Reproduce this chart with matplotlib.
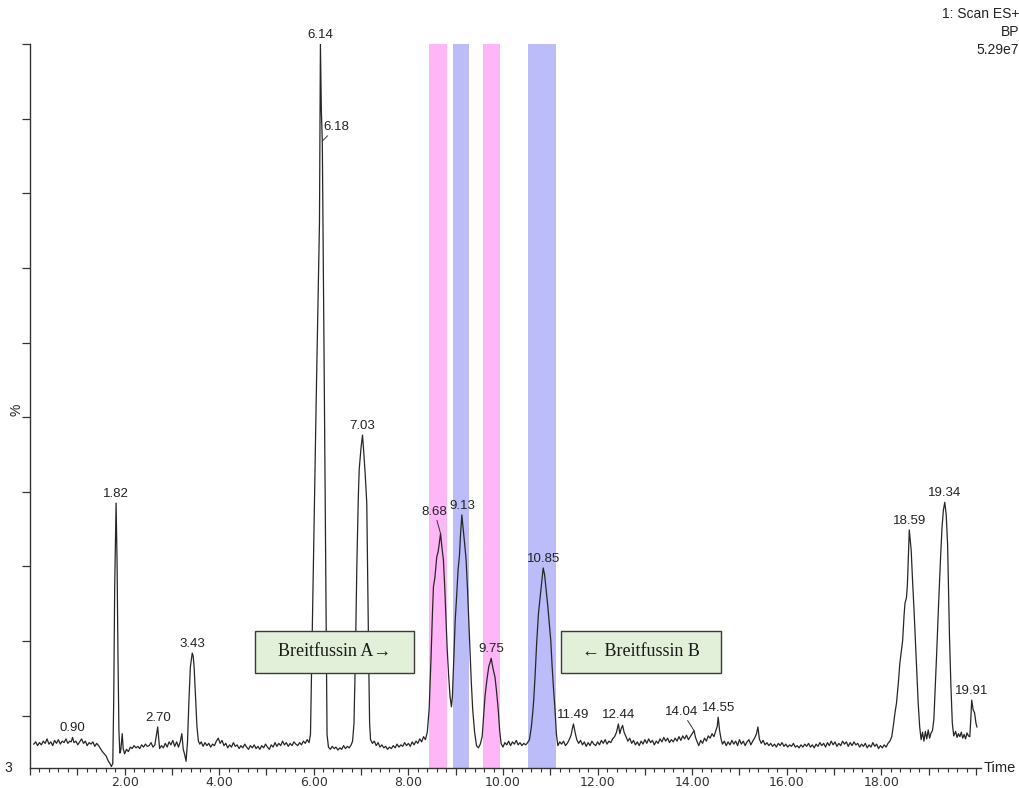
"""
BPI chromatogram (1: Scan ES+) with Breitfussin A / B regions marked
"""
import matplotlib
matplotlib.use('Agg')
import matplotlib.pyplot as plt
from matplotlib.patches import Rectangle
from matplotlib.ticker import MultipleLocator, FuncFormatter

# trace: (time in min, % of base peak)
seg_early = [(0.08, 6.2), (0.12, 6.5), (0.16, 6.0), (0.20, 6.4), (0.24, 6.1), (0.28, 6.6),
             (0.32, 6.3), (0.36, 6.9), (0.40, 6.2), (0.44, 6.5), (0.48, 6.0), (0.52, 6.7),
             (0.56, 6.3), (0.60, 6.8), (0.64, 6.2), (0.68, 6.6), (0.72, 6.4), (0.76, 6.9),
             (0.80, 6.3), (0.84, 6.6), (0.87, 6.5), (0.90, 7.1), (0.93, 6.4), (0.97, 6.6),
             (1.01, 6.1), (1.05, 6.5), (1.09, 6.9), (1.13, 6.3), (1.17, 6.6), (1.21, 6.0),
             (1.25, 6.4), (1.29, 6.2), (1.33, 6.5), (1.37, 5.9), (1.41, 6.3), (1.45, 6.0),
             (1.49, 5.6), (1.53, 5.2), (1.57, 4.9), (1.61, 4.6), (1.65, 4.0), (1.69, 3.6),
             (1.72, 3.2), (1.75, 3.6), (1.77, 12.0), (1.79, 27.0), (1.82, 38.5), (1.84, 31.0),
             (1.86, 18.0), (1.88, 8.0), (1.90, 5.0), (1.92, 5.4), (1.95, 7.6), (1.97, 5.6),
             (2.00, 4.9), (2.04, 5.5), (2.08, 5.2), (2.12, 5.8), (2.16, 5.6), (2.20, 6.0),
             (2.24, 5.7), (2.28, 5.9), (2.32, 5.6), (2.36, 6.1), (2.40, 5.8), (2.44, 6.2),
             (2.48, 5.9), (2.52, 6.0), (2.56, 6.4), (2.60, 5.8), (2.64, 6.1), (2.67, 7.3),
             (2.70, 8.5), (2.72, 7.0), (2.74, 5.6), (2.78, 6.0), (2.82, 5.7), (2.86, 6.3),
             (2.90, 5.8), (2.94, 6.5), (2.98, 6.1), (3.02, 6.7), (3.06, 5.9), (3.10, 6.5),
             (3.14, 5.8), (3.18, 6.6), (3.21, 7.6), (3.24, 5.5), (3.27, 4.8), (3.30, 3.9),
             (3.33, 6.5), (3.36, 12.0), (3.39, 16.5), (3.43, 18.4), (3.45, 18.0), (3.47, 16.5),
             (3.50, 12.5), (3.53, 8.5), (3.56, 6.6), (3.59, 6.2)]

seg_big = [(3.62, 6.5), (3.66, 5.9), (3.70, 6.4), (3.74, 6.0), (3.78, 6.3), (3.82, 5.8),
           (3.86, 6.2), (3.90, 6.0), (3.94, 6.6), (3.98, 7.0), (4.02, 6.3), (4.06, 6.7),
           (4.10, 6.0), (4.14, 6.3), (4.18, 5.7), (4.22, 6.1), (4.26, 5.8), (4.30, 6.4),
           (4.34, 5.9), (4.38, 6.1), (4.42, 5.6), (4.46, 6.0), (4.50, 5.7), (4.54, 6.2),
           (4.58, 5.8), (4.62, 5.5), (4.66, 6.0), (4.70, 5.7), (4.74, 6.1), (4.78, 5.6),
           (4.82, 5.9), (4.86, 5.5), (4.90, 6.0), (4.94, 5.7), (4.98, 6.2), (5.02, 5.8),
           (5.06, 5.5), (5.10, 6.1), (5.14, 5.8), (5.18, 6.4), (5.22, 5.9), (5.26, 6.3),
           (5.30, 6.0), (5.34, 6.6), (5.38, 6.1), (5.42, 6.4), (5.46, 5.9), (5.50, 6.3),
           (5.54, 6.0), (5.58, 6.5), (5.62, 6.2), (5.66, 6.0), (5.70, 6.4), (5.74, 6.1),
           (5.78, 6.6), (5.82, 6.3), (5.86, 6.8), (5.90, 6.4), (5.93, 7.5), (5.97, 22.0),
           (6.01, 37.0), (6.05, 52.0), (6.09, 66.0), (6.12, 76.0), (6.14, 100.0), (6.16, 91.0),
           (6.18, 87.0), (6.20, 72.0), (6.22, 56.0), (6.24, 40.0), (6.26, 23.0), (6.28, 7.5),
           (6.31, 5.8), (6.35, 5.5), (6.39, 5.9), (6.43, 5.6), (6.47, 5.8), (6.51, 5.4),
           (6.55, 5.7), (6.59, 5.5), (6.63, 6.0), (6.67, 5.6), (6.71, 5.9), (6.75, 5.7),
           (6.79, 6.1), (6.82, 6.6), (6.85, 9.0), (6.88, 18.0), (6.91, 30.0), (6.94, 39.0),
           (6.96, 43.0), (6.98, 44.5), (7.00, 46.0), (7.03, 47.6), (7.06, 45.0), (7.09, 42.0),
           (7.12, 38.5), (7.14, 28.0), (7.16, 18.0), (7.18, 9.0), (7.20, 6.8), (7.24, 6.3),
           (7.28, 6.6), (7.32, 6.0), (7.36, 6.4), (7.40, 5.8), (7.44, 6.1), (7.48, 5.7),
           (7.52, 5.9), (7.56, 5.5), (7.60, 5.8), (7.64, 5.6), (7.68, 6.0), (7.72, 5.7),
           (7.76, 6.2), (7.80, 5.8), (7.84, 6.1), (7.88, 5.9), (7.92, 6.4), (7.96, 6.0),
           (8.00, 6.3), (8.04, 5.9), (8.08, 6.5), (8.12, 6.1), (8.16, 6.6), (8.20, 6.3),
           (8.24, 6.9), (8.28, 6.5), (8.32, 7.2), (8.36, 6.8)]

seg_breit = [(8.40, 7.8), (8.44, 11.0), (8.48, 18.0), (8.51, 24.0), (8.53, 27.3), (8.56, 28.5),
             (8.60, 31.3), (8.63, 32.0), (8.66, 33.5), (8.68, 34.4), (8.71, 32.5), (8.74, 30.9),
             (8.77, 27.0), (8.79, 23.8), (8.82, 19.0), (8.85, 15.5), (8.88, 12.6), (8.91, 11.2),
             (8.93, 12.5), (8.96, 17.5), (8.99, 22.8), (9.02, 26.0), (9.05, 29.5), (9.08, 31.5),
             (9.10, 34.0), (9.13, 36.9), (9.16, 35.0), (9.19, 33.0), (9.22, 30.9), (9.25, 27.0),
             (9.27, 23.8), (9.30, 19.0), (9.33, 14.5), (9.36, 10.8), (9.40, 7.8), (9.44, 6.0),
             (9.48, 5.7), (9.52, 6.2), (9.56, 7.2), (9.59, 10.0), (9.62, 12.6), (9.66, 14.8),
             (9.70, 16.6), (9.73, 17.2), (9.75, 17.7), (9.79, 16.3), (9.83, 15.2), (9.86, 13.5),
             (9.90, 10.8), (9.93, 8.0), (9.96, 6.3), (10.00, 5.8), (10.04, 6.4), (10.08, 6.1),
             (10.12, 6.6), (10.16, 6.0), (10.20, 6.5), (10.24, 6.2), (10.28, 6.7), (10.32, 6.1),
             (10.36, 6.4), (10.40, 6.0), (10.44, 6.3), (10.48, 6.1), (10.52, 6.4), (10.56, 6.8),
             (10.60, 8.5), (10.63, 10.5), (10.65, 12.1), (10.68, 15.5), (10.71, 19.5),
             (10.75, 23.7), (10.78, 25.5), (10.82, 27.8), (10.85, 29.8), (10.88, 28.9),
             (10.91, 27.0), (10.95, 24.5), (10.98, 22.3), (11.01, 20.1), (11.04, 16.5),
             (11.07, 13.5), (11.10, 10.8), (11.13, 7.5), (11.16, 6.0)]

seg_mid = [(11.20, 6.5), (11.24, 6.2), (11.28, 6.6), (11.32, 6.0), (11.36, 6.3), (11.40, 6.8),
           (11.44, 7.4), (11.47, 8.4), (11.49, 8.9), (11.53, 7.6), (11.56, 6.8), (11.60, 6.3),
           (11.64, 6.7), (11.68, 6.1), (11.72, 6.5), (11.76, 5.9), (11.80, 6.4), (11.84, 6.0),
           (11.88, 6.6), (11.92, 6.2), (11.96, 6.0), (12.00, 6.5), (12.04, 6.1), (12.08, 6.7),
           (12.12, 6.3), (12.16, 6.8), (12.20, 6.2), (12.24, 6.6), (12.28, 6.4), (12.32, 6.9),
           (12.36, 7.2), (12.40, 7.8), (12.44, 8.9), (12.47, 7.6), (12.50, 8.3), (12.53, 8.7),
           (12.56, 7.8), (12.60, 7.2), (12.64, 6.6), (12.68, 7.0), (12.72, 6.3), (12.76, 6.7),
           (12.80, 6.1), (12.84, 6.5), (12.88, 6.0), (12.92, 6.6), (12.96, 6.2), (13.00, 6.8),
           (13.04, 6.3), (13.08, 6.9), (13.12, 6.4), (13.16, 6.7), (13.20, 6.1), (13.24, 6.6),
           (13.28, 6.3), (13.32, 6.9), (13.36, 6.5), (13.40, 7.1), (13.44, 6.6), (13.48, 7.0),
           (13.52, 6.4), (13.56, 6.8), (13.60, 6.5), (13.64, 7.0), (13.68, 6.6), (13.72, 7.2),
           (13.76, 6.7), (13.80, 7.3), (13.84, 6.9), (13.88, 7.4), (13.92, 6.8), (13.96, 7.2),
           (14.00, 7.6), (14.04, 8.0), (14.07, 7.1), (14.10, 6.6), (14.14, 6.0), (14.18, 6.7),
           (14.22, 6.3), (14.26, 7.0), (14.30, 6.6), (14.34, 7.3), (14.38, 7.0), (14.42, 7.6),
           (14.46, 7.2), (14.50, 8.0), (14.53, 8.6), (14.55, 9.8), (14.58, 8.0), (14.61, 6.9),
           (14.64, 6.2), (14.68, 6.6), (14.72, 6.0), (14.76, 6.5), (14.80, 6.1), (14.84, 6.7),
           (14.88, 6.2), (14.92, 6.6), (14.96, 6.0), (15.00, 6.8), (15.04, 6.2), (15.08, 6.6),
           (15.12, 6.0), (15.16, 6.5), (15.20, 6.8), (15.24, 6.1), (15.28, 6.6), (15.32, 7.0),
           (15.36, 7.6), (15.39, 8.5), (15.42, 6.9), (15.46, 6.3), (15.50, 6.7), (15.54, 6.1),
           (15.58, 6.4), (15.62, 6.0), (15.66, 6.3), (15.70, 5.9), (15.74, 6.2), (15.78, 5.8),
           (15.82, 6.3), (15.86, 6.0), (15.90, 6.4), (15.94, 5.9), (15.98, 6.2), (16.02, 5.8),
           (16.06, 6.1), (16.10, 5.9), (16.14, 6.3), (16.18, 5.8), (16.22, 6.0), (16.26, 5.7),
           (16.30, 6.1), (16.34, 5.8), (16.38, 6.2), (16.42, 5.9), (16.46, 6.3), (16.50, 5.8),
           (16.54, 6.1), (16.58, 5.7), (16.62, 6.2), (16.66, 5.9), (16.70, 6.4), (16.74, 6.0),
           (16.78, 6.3), (16.82, 5.8), (16.86, 6.4), (16.90, 6.0), (16.94, 6.6), (16.98, 6.1),
           (17.02, 6.5), (17.06, 5.9), (17.10, 6.3), (17.14, 6.0), (17.18, 6.6), (17.22, 6.2),
           (17.26, 6.5), (17.30, 5.9), (17.34, 6.4), (17.38, 6.0), (17.42, 6.5), (17.46, 6.1),
           (17.50, 6.3), (17.54, 5.8), (17.58, 6.2), (17.62, 5.9), (17.66, 6.3), (17.70, 5.7),
           (17.74, 6.1), (17.78, 5.8), (17.82, 6.4), (17.86, 5.9), (17.90, 6.2), (17.94, 5.6),
           (17.98, 6.0), (18.02, 5.7), (18.06, 6.1), (18.10, 5.8), (18.14, 6.3), (18.18, 6.6)]

seg_late = [(18.22, 7.2), (18.26, 9.0), (18.29, 10.5), (18.32, 11.7), (18.36, 14.5), (18.39, 17.0),
            (18.42, 18.5), (18.45, 20.1), (18.48, 23.5), (18.50, 25.1), (18.53, 25.8),
            (18.55, 27.5), (18.57, 31.0), (18.59, 34.9), (18.61, 33.5), (18.63, 32.2),
            (18.66, 28.0), (18.69, 24.2), (18.72, 20.0), (18.75, 16.1), (18.78, 11.5),
            (18.81, 8.5), (18.84, 6.8), (18.87, 7.8), (18.90, 6.6), (18.93, 7.9), (18.96, 6.9),
            (18.99, 8.1), (19.02, 7.0), (19.05, 7.7), (19.08, 8.0), (19.11, 9.5), (19.14, 14.0),
            (19.17, 18.5), (19.21, 25.0), (19.25, 31.0), (19.28, 35.0), (19.31, 37.5),
            (19.34, 38.6), (19.37, 37.0), (19.40, 33.0), (19.42, 27.0), (19.44, 20.6),
            (19.47, 14.0), (19.50, 9.0), (19.53, 7.3), (19.57, 7.9), (19.60, 7.1), (19.63, 7.6),
            (19.66, 7.2), (19.69, 7.8), (19.72, 7.0), (19.75, 7.5), (19.78, 6.9), (19.81, 7.7),
            (19.84, 7.3), (19.87, 7.2), (19.89, 9.5), (19.91, 12.1), (19.94, 10.8),
            (19.97, 10.4), (20.00, 9.0), (20.02, 8.5)]

# labelled peaks (retention time, apex %)
peak_rt = [0.90, 1.82, 2.70, 3.43, 6.14, 6.18, 7.03, 8.68, 9.13, 9.75, 10.85,
           11.49, 12.44, 14.04, 14.55, 18.59, 19.34, 19.91]
peak_pct = [7.1, 38.5, 8.5, 18.4, 100.0, 87.0, 47.6, 34.4, 36.9, 17.7, 29.8,
            8.9, 8.9, 8.0, 9.8, 34.9, 38.6, 12.1]

# highlighted windows (start, end, colour)
band_start = [8.44, 8.94, 9.58, 10.53]
band_end = [8.82, 9.28, 9.94, 11.12]
band_color = ['#ffb6f6', '#bcbcf8', '#ffb6f6', '#bcbcf8']

x_ticks = [2, 4, 6, 8, 10, 12, 14, 16, 18]

trace = seg_early + seg_big + seg_breit + seg_mid + seg_late
rt = [p[0] for p in trace]
pct = [p[1] for p in trace]

W, H = 1020, 788
fig = plt.figure(figsize=(W / 100, H / 100), dpi=100)
x0, x1, ytop, ybot = 30, 980.7, 44, 768
ax = fig.add_axes([x0 / W, (H - ybot) / H, (x1 - x0) / W, (ybot - ytop) / H])
ax.set_xlim(0, 20.1)
ax.set_ylim(3, 100)

for s, e, c in zip(band_start, band_end, band_color):
    ax.axvspan(s, e, color=c, lw=0, zorder=1)

ax.plot(rt, pct, color='#262626', lw=0.9, zorder=3)

for spine in ('top', 'right'):
    ax.spines[spine].set_visible(False)
for spine in ('left', 'bottom'):
    ax.spines[spine].set_linewidth(1.0)
    ax.spines[spine].set_color('#333333')

ax.xaxis.set_major_locator(MultipleLocator(1.0))
ax.xaxis.set_minor_locator(MultipleLocator(0.2))
ax.xaxis.set_major_formatter(FuncFormatter(
    lambda v, pos: '%.2f' % v if (round(v) in x_ticks and abs(v - round(v)) < 1e-6) else ''))
ax.tick_params(axis='x', which='major', length=5, width=0.9, pad=0.5,
               labelsize=9, colors='#333333')
ax.tick_params(axis='x', which='minor', length=3, width=0.8, colors='#333333')
ax.set_yticks([10, 20, 30, 40, 50, 60, 70, 80, 90, 100])
ax.set_yticklabels([])
ax.tick_params(axis='y', length=6, width=0.9, colors='#333333')

label_font = dict(family='Liberation Sans', fontsize=9.5, color='#222222')
# leader-line labels: offsets in pixels
leader = {6.18: (14, 8), 8.68: (-6, 16), 14.04: (-12, 13)}
for t, h in zip(peak_rt, peak_pct):
    txt = '%.2f' % t
    if t in leader:
        dx, dy = leader[t]
        ax.annotate(txt, xy=(t, h), xytext=(dx, dy), textcoords='offset pixels',
                    ha='center', va='bottom', zorder=5,
                    arrowprops=dict(arrowstyle='-', lw=0.7, color='#333333',
                                    shrinkA=0, shrinkB=0), **label_font)
    else:
        ax.annotate(txt, xy=(t, h), xytext=(0, 3), textcoords='offset pixels',
                    ha='center', va='bottom', zorder=5, **label_font)

# Breitfussin boxes
def label_box(left, top, right, bottom, text):
    fig.add_artist(Rectangle((left / W, 1 - bottom / H), (right - left) / W, (bottom - top) / H,
                             transform=fig.transFigure, facecolor='#e2efd9',
                             edgecolor='#3a3a3a', lw=1.0, zorder=6))
    fig.text((left + right) / 2 / W, 1 - (top + bottom) / 2 / H, text,
             family=['Liberation Serif', 'DejaVu Serif'], fontsize=13, color='#1a1a1a',
             ha='center', va='center', zorder=7)

label_box(255, 631, 414, 673, 'Breitfussin A\u2192')
label_box(561, 631, 721, 673, '\u2190 Breitfussin B')

sans = dict(family='Liberation Sans', color='#222222')
fig.text(1019 / W, 1 - 14 / H, '1: Scan ES+', ha='right', va='center', fontsize=10, **sans)
fig.text(1019 / W, 1 - 32 / H, 'BP', ha='right', va='center', fontsize=10, **sans)
fig.text(1019 / W, 1 - 50 / H, '5.29e7', ha='right', va='center', fontsize=10, **sans)
fig.text(1000 / W, 1 - 768 / H, 'Time', ha='center', va='center', fontsize=10.5, **sans)
fig.text(17 / W, 1 - 410 / H, '%', ha='center', va='center', rotation=90, fontsize=10, **sans)
fig.text(8 / W, 1 - 768 / H, '3', ha='center', va='center', fontsize=10, **sans)

fig.savefig('out.png', dpi=100)
